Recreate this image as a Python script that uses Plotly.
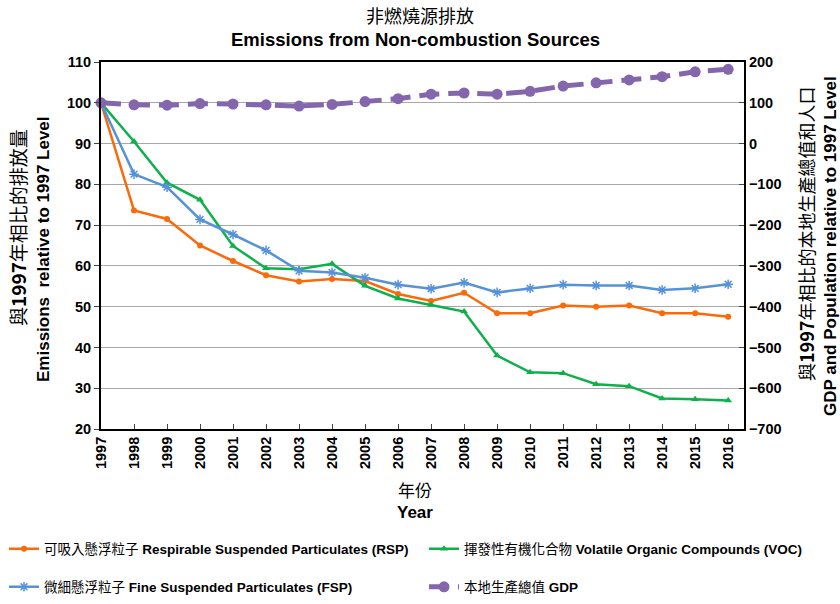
import plotly.graph_objects as go

years = list(range(1997, 2017))
rsp = [100, 73.6, 71.5, 65.0, 61.2, 57.7, 56.2, 56.8, 56.3, 53.1, 51.4, 53.4, 48.4, 48.4, 50.3, 50.0, 50.3, 48.4, 48.4, 47.5]
voc = [100, 90.5, 80.4, 76.2, 64.9, 59.4, 59.2, 60.5, 55.1, 52.0, 50.4, 48.8, 38.0, 33.9, 33.7, 31.0, 30.5, 27.5, 27.3, 27.0]
fsp = [100, 82.5, 79.3, 71.4, 67.7, 63.8, 58.8, 58.4, 57.1, 55.4, 54.4, 55.9, 53.5, 54.5, 55.4, 55.2, 55.2, 54.1, 54.5, 55.5]
gdp = [100, 95, 94, 98, 97, 95, 92, 96, 103, 110, 121, 124, 121, 128, 141, 149, 156, 164, 176, 182]

names = {
    "rsp": "可吸入懸浮粒子 <b>Respirable Suspended Particulates (RSP)</b>",
    "voc": "揮發性有機化合物 <b>Volatile Organic Compounds (VOC)</b>",
    "fsp": "微細懸浮粒子 <b>Fine Suspended Particulates (FSP)</b>",
    "gdp": "本地生產總值 <b>GDP</b>",
}

W, H = 840, 604
L, R, T, B = 101, 744, 62, 429
FONT = "Liberation Sans, Arial, Noto Sans CJK TC, sans-serif"
CJK = "Noto Sans CJK TC, Liberation Sans, sans-serif"

def px(x):
    return (x - L) / (R - L)

def py(y):
    return (B - y) / (B - T)

fig = go.Figure()
fig.add_trace(go.Scatter(x=years, y=rsp, name=names["rsp"], mode="lines+markers",
                         line=dict(color="#FA6A0A", width=2.5),
                         marker=dict(symbol="circle", size=6, color="#FA6A0A"),
                         legend="legend", cliponaxis=False))
fig.add_trace(go.Scatter(x=years, y=voc, name=names["voc"], mode="lines+markers",
                         line=dict(color="#0DB04B", width=2.5),
                         marker=dict(symbol="triangle-up", size=7, color="#0DB04B"),
                         legend="legend2", cliponaxis=False))
fig.add_trace(go.Scatter(x=years, y=fsp, name=names["fsp"], mode="lines+markers",
                         line=dict(color="#5592D8", width=2.5),
                         marker=dict(symbol="asterisk-open", size=8, color="#5592D8",
                                     line=dict(color="#5592D8", width=1.5)),
                         legend="legend3", cliponaxis=False))
fig.add_trace(go.Scatter(x=years, y=gdp, name=names["gdp"], mode="lines+markers",
                         line=dict(color="#8366AC", width=5, dash="20px,9px"),
                         marker=dict(symbol="circle", size=11, color="#8366AC"),
                         yaxis="y2", legend="legend4", cliponaxis=False))

ann = []
def add(text, x, y, size, family=FONT, angle=0):
    ann.append(dict(text=text, x=px(x), y=py(y), xref="paper", yref="paper",
                    showarrow=False, xanchor="center", yanchor="middle",
                    textangle=angle, font=dict(size=size, family=family, color="black")))

add("非燃燒源排放", 420, 15, 18, CJK)
add("<b>Emissions from Non-combustion Sources</b>", 415, 39, 18.5)
add("與<b>1997</b>年相比的排放量", 17, 228, 19, CJK, -90)
add("<b>Emissions  relative to 1997 Level</b>", 43, 249, 17, FONT, -90)
add("與<b>1997</b>年相比的本地生產總值和人口", 806, 234, 18, CJK, -90)
add("<b>GDP and Population relative to 1997 Level</b>", 830, 246, 17, FONT, -90)
add("年份", 415, 490, 17, CJK)
add("<b>Year</b>", 415, 512, 17)

tickfont = dict(size=14.5, family=FONT, color="black", weight="bold")

def leg(x, y):
    return dict(orientation="v", x=px(x), y=py(y), xanchor="left", yanchor="middle",
                bgcolor="rgba(0,0,0,0)", borderwidth=0,
                font=dict(size=13.5, family=FONT, color="black"))

fig.update_layout(
    width=W, height=H,
    margin=dict(l=L, r=W - R, t=T, b=H - B, autoexpand=False),
    paper_bgcolor="white", plot_bgcolor="white",
    showlegend=True,
    annotations=ann,
    xaxis=dict(range=[1997, 2016.48], tickvals=years, ticktext=[str(y) for y in years],
               tickangle=-90, tickfont=tickfont, showgrid=False, zeroline=False,
               showline=True, linecolor="black", linewidth=2, mirror=True,
               ticks="inside", ticklen=5, tickcolor="#444", automargin=False),
    yaxis=dict(range=[20, 110], dtick=10, tickfont=tickfont, showgrid=True,
               gridcolor="#A8A8A8", gridwidth=1, zeroline=False,
               showline=True, linecolor="black", linewidth=2,
               ticks="outside", ticklen=5, tickcolor="#444", automargin=False),
    yaxis2=dict(range=[-700, 200], dtick=100, overlaying="y", side="right",
                tickfont=tickfont, showgrid=False, zeroline=False,
                showline=True, linecolor="black", linewidth=2,
                ticks="inside", ticklen=5, tickcolor="#444", automargin=False),
    legend=leg(4, 549),
    legend2=leg(424, 549),
    legend3=leg(4, 587),
    legend4=leg(424, 587),
)

fig.write_html("out.html", config={"displayModeBar": False},
               post_script="document.body.style.margin='0px';document.body.style.overflow='hidden';")
